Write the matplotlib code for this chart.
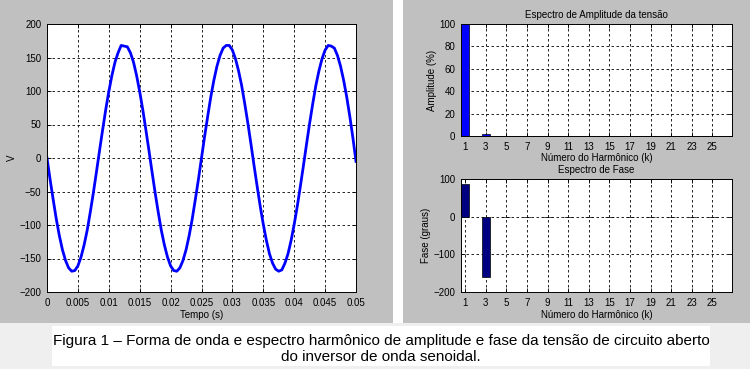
import numpy as np
import matplotlib.pyplot as plt
from matplotlib.patches import Rectangle

plt.rcParams['font.family'] = ['Liberation Sans', 'DejaVu Sans']

# waveform, one point every 0.5 ms
tempo = [i * 0.0005 for i in range(101)]
tensao = [0, -32, -62, -91, -116, -137, -153, -164, -169, -168,
          -161, -148, -130, -108, -81, -52, -21, 11, 42, 72,
          99, 123, 143, 157, 168, 167, 166, 157, 143, 123,
          99, 72, 42, 11, -21, -52, -81, -108, -130, -148,
          -161, -168, -169, -164, -153, -137, -116, -91, -62, -32,
          0, 32, 62, 91, 116, 137, 153, 164, 168, 168,
          161, 148, 130, 108, 81, 52, 21, -11, -42, -72,
          -99, -123, -143, -157, -166, -169, -167, -157, -143, -123,
          -99, -72, -42, -11, 21, 52, 81, 108, 130, 148,
          161, 168, 167, 164, 153, 137, 116, 91, 62, 30, -5]

harmonicos = [1, 3, 5, 7, 9, 11, 13, 15, 17, 19, 21, 23, 25]
amplitude = [100, 1.5, 0.1, 0.1, 0.1, 0.1, 0.1, 0.1, 0.1, 0.1, 0.1, 0.1, 0.1]
fase = [88, -160, 0, 0, 0, 0, 0, 0, 0, 0, 0, 0, 0]

legenda = ("Figura 1 \u2013 Forma de onda e espectro harmônico de amplitude e fase da tensão de circuito aberto\n"
           "do inversor de onda senoidal.")

W, H = 750, 369
fig = plt.figure(figsize=(7.5, 3.69), dpi=100)
fig.patch.set_facecolor('#efefef')

def box(x0, y0, x1, y1):
    # pixel box (top-left origin) -> figure fraction
    return [x0 / W, 1 - y1 / H, (x1 - x0) / W, (y1 - y0) / H]

panel = '#c0c0c0'
for b in [box(0, 0, 393, 323), box(403, 0, 750, 323)]:
    fig.patches.append(Rectangle((b[0], b[1]), b[2], b[3], transform=fig.transFigure,
                                 facecolor=panel, edgecolor='none', zorder=-5))
fig.patches.append(Rectangle((393 / W, 1 - 323 / H), 10 / W, 323 / H, transform=fig.transFigure,
                             facecolor='white', edgecolor='none', zorder=-5))
b = box(52, 326, 710, 366)
fig.patches.append(Rectangle((b[0], b[1]), b[2], b[3], transform=fig.transFigure,
                             facecolor='white', edgecolor='none', zorder=-5))

fs = 7
grid_kw = dict(color='black', linestyle=(0, (3, 3)), linewidth=0.6)

def style(ax):
    ax.tick_params(direction='in', length=3, labelsize=fs, colors='black', width=0.6,
                   top=True, right=True, labeltop=False, labelright=False, pad=4)
    for s in ax.spines.values():
        s.set_linewidth(0.7)
    ax.grid(True, **grid_kw)
    ax.set_axisbelow(True)

# waveform
ax1 = fig.add_axes(box(47, 24, 356, 292))
ax1.plot(tempo, tensao, color='#0000ff', linewidth=2)
ax1.set_xlim(0, 0.05)
ax1.set_ylim(-200, 200)
ax1.set_xticks(np.arange(0, 0.0501, 0.005))
ax1.set_xticklabels(['0', '0.005', '0.01', '0.015', '0.02', '0.025', '0.03',
                     '0.035', '0.04', '0.045', '0.05'])
ax1.set_yticks(range(-200, 201, 50))
ax1.set_xlabel('Tempo (s)', fontsize=fs, labelpad=2)
ax1.set_ylabel('V', fontsize=fs, labelpad=2)
style(ax1)

# amplitude spectrum
ax2 = fig.add_axes(box(461, 24, 732, 136))
ax2.bar(harmonicos, amplitude, width=0.8, color='#0000ff', edgecolor='black', linewidth=0.5)
ax2.set_xlim(0.6, 26.9)
ax2.set_ylim(0, 100)
ax2.set_xticks(harmonicos)
ax2.set_yticks(range(0, 101, 20))
ax2.set_title('Espectro de Amplitude da tensão', fontsize=fs, pad=4)
ax2.set_xlabel('Número do Harmônico (k)', fontsize=fs, labelpad=1)
ax2.set_ylabel('Amplitude (%)', fontsize=fs, labelpad=2)
style(ax2)

# phase spectrum
ax3 = fig.add_axes(box(461, 179, 732, 292))
ax3.bar(harmonicos, fase, width=0.8, color='#000080', edgecolor='black', linewidth=0.5)
ax3.set_xlim(0.6, 26.9)
ax3.set_ylim(-200, 100)
ax3.set_xticks(harmonicos)
ax3.set_yticks([-200, -100, 0, 100])
ax3.set_title('Espectro de Fase', fontsize=fs, pad=4)
ax3.set_xlabel('Número do Harmônico (k)', fontsize=fs, labelpad=2)
ax3.set_ylabel('Fase (graus)', fontsize=fs, labelpad=2)
style(ax3)

fig.text(381 / W, 1 - 349 / H, legenda, ha='center', va='center', fontsize=11,
         linespacing=1.15, color='black')

fig.savefig('out.png', dpi=100, facecolor=fig.get_facecolor())
